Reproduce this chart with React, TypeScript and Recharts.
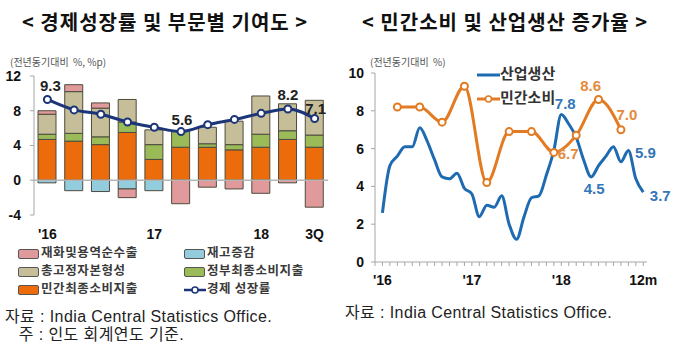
import React from "react"
import {
    ComposedChart,
    Bar,
    Line,
    XAxis,
    YAxis,
    ReferenceLine,
    LabelList,
} from "recharts"

// 왼쪽: 경제성장률 및 부문별 기여도 (분기)
const quarters = ["16Q1", "16Q2", "16Q3", "16Q4", "17Q1", "17Q2", "17Q3", "17Q4", "18Q1", "18Q2", "18Q3"]
const quarterTickLabels = ["'16", "", "", "", "17", "", "", "", "18", "", "3Q"]
const privateConsumption = [4.7, 4.5, 4.1, 5.5, 2.4, 3.8, 3.8, 3.5, 3.8, 4.7, 3.8]
const govConsumption = [0.6, 0.9, 0.9, 1.2, 1.7, 1.8, 0.4, 0.6, 1.5, 1.0, 1.4]
const fixedCapital = [2.3, 4.8, 3.3, 2.6, 1.7, 0, 1.9, 2.7, 4.4, 3.1, 4.0]
const inventory = [-0.3, -1.2, -1.3, -1.0, -1.2, 0, 0, 0, 0, 0, 0]
const netExports = [0.4, 0.8, 0.6, -1.0, 0, -2.7, -0.8, -1.0, -1.5, -0.3, -3.1]
const gdpGrowth = [9.3, 8.1, 7.6, 6.7, 6.1, 5.6, 6.4, 7.0, 7.7, 8.2, 7.1]
const gdpLabelIndex = [0, 5, 9, 10]

// 오른쪽: 민간소비 및 산업생산 증가율 (월)
const industrialProduction = [
    2.6, 5.1, 5.6, 6.1, 6.1, 7.1, 6.4, 5.4, 4.5, 4.4, 4.7, 3.9,
    3.6, 2.4, 3.0, 2.9, 3.5, 2.0, 1.2, 2.4, 3.4, 3.5, 4.6, 5.9,
    7.8, 7.3, 6.6, 5.4, 4.5, 5.1, 5.6, 6.1, 5.3, 5.9, 4.4, 3.7,
]
const consumptionMonths = [2, 5, 8, 11, 14, 17, 20, 23, 26, 29, 32]
const consumptionValues = [8.2, 8.2, 7.4, 9.3, 4.2, 6.9, 6.9, 5.8, 6.7, 8.6, 7.0]
const monthTickLabels: Record<number, string> = { 0: "'16", 12: "'17", 24: "'18", 35: "12m" }
const ipLabelIndex = [24, 28, 33, 35]
const pcLabelIndex = [26, 29, 32]

const leftData = quarters.map((q, i) => ({
    q,
    pc: privateConsumption[i],
    gov: govConsumption[i],
    fix: fixedCapital[i],
    inv: inventory[i],
    net: netExports[i],
    gdp: gdpGrowth[i],
}))

const rightData = industrialProduction.map((v, i) => {
    const k = consumptionMonths.indexOf(i)
    return { m: i, ip: v, pc: k >= 0 ? consumptionValues[k] : null }
})

const monthTicks = Array.from({ length: 37 }, (_, i) => i - 1)

// 라벨 위치 보정 (dx, dy)
const gdpLabelOffset: Record<number, [number, number]> = {
    0: [3, -14], 5: [1, -12], 9: [0, -15], 10: [1, -10],
}
const ipLabelOffset: Record<number, [number, number]> = {
    24: [4, -11], 28: [3, 12], 33: [17, 2], 35: [17, 3],
}
const pcLabelOffset: Record<number, [number, number]> = {
    26: [-8, 18], 29: [-8, -14], 32: [6, -15],
}

const NUM_FONT = "'Liberation Sans', Arial, sans-serif"
const KR_FONT = "'Noto Sans CJK KR', 'Noto Sans', sans-serif"
const SRC_FONT = "'Liberation Sans', 'Noto Sans CJK KR', sans-serif"

const COLORS = {
    orange: "#EC6C0C",
    green: "#9BBB59",
    beige: "#C6BE98",
    pink: "#E19A9C",
    sky: "#93CDDD",
    navy: "#1C3578",
    blue: "#1F6BB2",
    line2: "#E27B22",
    blueText: "#3476B8",
    orangeText: "#E58A3C",
}

function makeLabel(indices: number[], offsets: Record<number, [number, number]>, color: string) {
    return (props: any) => {
        const { x, y, value, index } = props
        if (!indices.includes(index) || value == null) return null
        const [dx, dy] = offsets[index] || [0, -12]
        return (
            <text
                x={x + dx}
                y={y + dy}
                textAnchor="middle"
                dominantBaseline="central"
                fontFamily={NUM_FONT}
                fontWeight="bold"
                fontSize={15}
                fill={color}
            >
                {Number(value).toFixed(1)}
            </text>
        )
    }
}

function Swatch({ color }: { color: string }) {
    return (
        <span
            style={{
                display: "inline-block",
                width: 19,
                height: 8,
                background: color,
                border: "1px solid #555",
                borderRadius: 2,
                marginRight: 2,
                verticalAlign: "middle",
            }}
        />
    )
}

function LegendItem({ x, y, color, label, line }: { x: number; y: number; color: string; label: string; line?: boolean }) {
    return (
        <div
            style={{
                position: "absolute",
                left: x,
                top: y - 8,
                height: 16,
                lineHeight: "16px",
                fontFamily: KR_FONT,
                fontSize: 12.5,
                fontWeight: 700,
                letterSpacing: 0.6,
                color: "#3a3a3a",
                whiteSpace: "nowrap",
            }}
        >
            {line ? (
                <svg width={22} height={10} style={{ verticalAlign: "middle", marginRight: 1 }}>
                    <line x1={0} y1={5} x2={22} y2={5} stroke={color} strokeWidth={2.5} />
                    <circle cx={11} cy={5} r={3} fill="#fff" stroke={color} strokeWidth={1.5} />
                </svg>
            ) : (
                <Swatch color={color} />
            )}
            {label}
        </div>
    )
}

function Text({ x, y, size, children, bold, color = "#222", font = KR_FONT, spacing = 0 }: any) {
    return (
        <div
            style={{
                position: "absolute",
                left: x,
                top: y - size * 0.7,
                lineHeight: `${size * 1.4}px`,
                fontSize: size,
                fontWeight: bold ? 700 : 400,
                fontFamily: font,
                letterSpacing: spacing,
                color,
                whiteSpace: "pre",
            }}
        >
            {children}
        </div>
    )
}

export default function App() {
    const axisTick = { fontSize: 14, fontWeight: "bold", fill: "#111", fontFamily: NUM_FONT }
    const barStroke = "#4d4b3e"

    return (
        <div style={{ position: "absolute", left: 0, top: 0, width: 680, height: 353, background: "#fff", overflow: "hidden" }}>
            <Text x={22} y={22} size={20} bold color="#111" spacing={1}>{"< 경제성장률 및 부문별 기여도 >"}</Text>
            <Text x={362} y={22} size={20} bold color="#111" spacing={1}>{"< 민간소비 및 산업생산 증가율 >"}</Text>
            <Text x={10} y={62} size={10} color="#555">{"(전년동기대비  %, %p)"}</Text>
            <Text x={370} y={62} size={10} color="#555">{"(전년동기대비  %)"}</Text>

            <div style={{ position: "absolute", left: 0, top: 0 }}>
                <ComposedChart
                    width={340}
                    height={245}
                    data={leftData}
                    stackOffset="sign"
                    margin={{ top: 76, right: 12, bottom: 10, left: 0 }}
                >
                    <XAxis
                        dataKey="q"
                        tickFormatter={(_v: string, i: number) => quarterTickLabels[i]}
                        interval={0}
                        axisLine={false}
                        tickLine={false}
                        tick={axisTick}
                        tickMargin={8}
                        height={20}
                    />
                    <YAxis
                        domain={[-4, 12]}
                        ticks={[-4, 0, 4, 8, 12]}
                        width={34}
                        tick={axisTick}
                        tickSize={4}
                        tickMargin={9}
                        stroke="#a6a6a6"
                    />
                    <ReferenceLine y={0} stroke="#b5b5b5" strokeWidth={1.5} />
                    <Bar dataKey="pc" stackId="a" fill={COLORS.orange} stroke={barStroke} strokeWidth={1} barSize={18} isAnimationActive={false} />
                    <Bar dataKey="gov" stackId="a" fill={COLORS.green} stroke={barStroke} strokeWidth={1} barSize={18} isAnimationActive={false} />
                    <Bar dataKey="fix" stackId="a" fill={COLORS.beige} stroke={barStroke} strokeWidth={1} barSize={18} isAnimationActive={false} />
                    <Bar dataKey="inv" stackId="a" fill={COLORS.sky} stroke={barStroke} strokeWidth={1} barSize={18} isAnimationActive={false} />
                    <Bar dataKey="net" stackId="a" fill={COLORS.pink} stroke={barStroke} strokeWidth={1} barSize={18} isAnimationActive={false} />
                    <Line
                        dataKey="gdp"
                        type="monotone"
                        stroke={COLORS.navy}
                        strokeWidth={3}
                        dot={{ r: 3.5, fill: "#fff", stroke: COLORS.navy, strokeWidth: 2 }}
                        isAnimationActive={false}
                    >
                        <LabelList dataKey="gdp" content={makeLabel(gdpLabelIndex, gdpLabelOffset, "#222")} />
                    </Line>
                </ComposedChart>
            </div>

            <div style={{ position: "absolute", left: 340, top: 0 }}>
                <ComposedChart
                    width={340}
                    height={295}
                    data={rightData}
                    margin={{ top: 73, right: 33, bottom: 13, left: 0 }}
                >
                    <XAxis
                        dataKey="m"
                        type="number"
                        domain={[-1, 35.5]}
                        ticks={monthTicks}
                        interval={0}
                        tickFormatter={(v: number) => monthTickLabels[v] || ""}
                        tick={axisTick}
                        tickSize={4}
                        tickMargin={9}
                        stroke="#a6a6a6"
                        height={20}
                    />
                    <YAxis
                        domain={[0, 10]}
                        ticks={[0, 2, 4, 6, 8, 10]}
                        width={35}
                        tick={axisTick}
                        tickSize={4}
                        tickMargin={7}
                        stroke="#a6a6a6"
                    />
                    <Line
                        dataKey="ip"
                        type="monotone"
                        stroke={COLORS.blue}
                        strokeWidth={3}
                        dot={false}
                        isAnimationActive={false}
                    >
                        <LabelList dataKey="ip" content={makeLabel(ipLabelIndex, ipLabelOffset, COLORS.blueText)} />
                    </Line>
                    <Line
                        dataKey="pc"
                        type="monotone"
                        connectNulls
                        stroke={COLORS.line2}
                        strokeWidth={3}
                        dot={{ r: 3.5, fill: "#fff", stroke: COLORS.line2, strokeWidth: 2 }}
                        isAnimationActive={false}
                    >
                        <LabelList dataKey="pc" content={makeLabel(pcLabelIndex, pcLabelOffset, COLORS.orangeText)} />
                    </Line>
                </ComposedChart>
            </div>

            {/* 오른쪽 범례 */}
            <div style={{ position: "absolute", left: 477, top: 64, height: 18, lineHeight: "18px", fontFamily: KR_FONT, fontSize: 15, fontWeight: 700, color: "#333", whiteSpace: "nowrap" }}>
                <svg width={23} height={10} style={{ verticalAlign: "middle" }}>
                    <line x1={0} y1={5} x2={23} y2={5} stroke={COLORS.blue} strokeWidth={3} />
                </svg>
                산업생산
            </div>
            <div style={{ position: "absolute", left: 477, top: 88, height: 18, lineHeight: "18px", fontFamily: KR_FONT, fontSize: 15, fontWeight: 700, color: "#333", whiteSpace: "nowrap" }}>
                <svg width={23} height={10} style={{ verticalAlign: "middle" }}>
                    <line x1={0} y1={5} x2={23} y2={5} stroke={COLORS.line2} strokeWidth={3} />
                    <circle cx={11.5} cy={5} r={3} fill="#fff" stroke={COLORS.line2} strokeWidth={1.5} />
                </svg>
                민간소비
            </div>

            {/* 왼쪽 범례 */}
            <LegendItem x={18} y={252} color={COLORS.pink} label="재화및용역순수출" />
            <LegendItem x={184} y={252} color={COLORS.sky} label="재고증감" />
            <LegendItem x={18} y={270} color={COLORS.beige} label="총고정자본형성" />
            <LegendItem x={184} y={270} color={COLORS.green} label="정부최종소비지출" />
            <LegendItem x={18} y={288} color={COLORS.orange} label="민간최종소비지출" />
            <LegendItem x={184} y={288} color={COLORS.navy} label="경제 성장률" line />

            <Text x={5} y={317} size={16} font={SRC_FONT} spacing={0.4}>{"자료 : India Central Statistics Office."}</Text>
            <Text x={14} y={335} size={16} font={SRC_FONT} spacing={0.4}>{" 주 : 인도 회계연도 기준."}</Text>
            <Text x={345} y={313} size={16} font={SRC_FONT} spacing={0.4}>{"자료 : India Central Statistics Office."}</Text>
        </div>
    )
}
